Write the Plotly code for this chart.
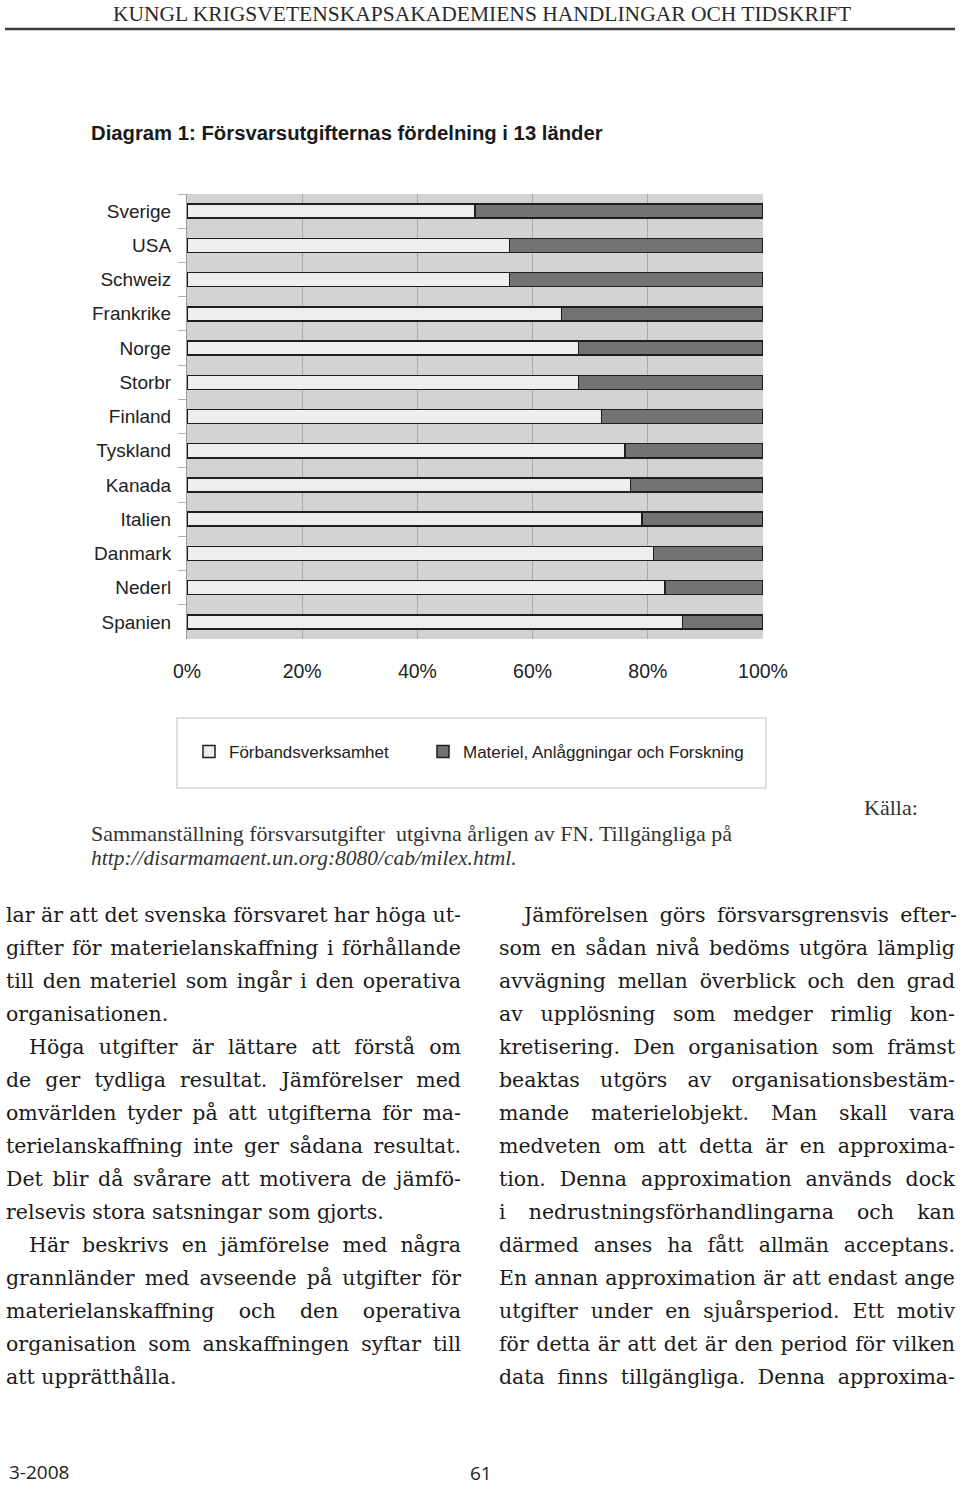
import json
import plotly.graph_objects as go

# ---------------- data ----------------
countries = ["Sverige", "USA", "Schweiz", "Frankrike", "Norge", "Storbr", "Finland",
             "Tyskland", "Kanada", "Italien", "Danmark", "Nederl", "Spanien"]
forband = [50, 56, 56, 65, 68, 68, 72, 76, 77, 79, 81, 83, 86]
materiel = [50, 44, 44, 35, 32, 32, 28, 24, 23, 21, 19, 17, 14]
x_tick_vals = [0, 20, 40, 60, 80, 100]
x_tick_text = ["0%", "20%", "40%", "60%", "80%", "100%"]
series_names = ["Förbandsverksamhet", "Materiel, Anlåggningar och Forskning"]

header_text = "KUNGL KRIGSVETENSKAPSAKADEMIENS HANDLINGAR OCH TIDSKRIFT"
title_text = "Diagram 1: Försvarsutgifternas fördelning i 13 länder"
source_label = "Källa:"
source_line1 = "Sammanställning försvarsutgifter  utgivna årligen av FN. Tillgängliga på"
source_line2 = "http://disarmamaent.un.org:8080/cab/milex.html."

# (text, indented, justified)
left_col = [
    ("lar är att det svenska försvaret har höga ut-", False, True),
    ("gifter för materielanskaffning i förhållande", False, True),
    ("till den materiel som ingår i den operativa", False, True),
    ("organisationen.", False, False),
    ("Höga utgifter är lättare att förstå om", True, True),
    ("de ger tydliga resultat. Jämförelser med", False, True),
    ("omvärlden tyder på att utgifterna för ma-", False, True),
    ("terielanskaffning inte ger sådana resultat.", False, True),
    ("Det blir då svårare att motivera de jämfö-", False, True),
    ("relsevis stora satsningar som gjorts.", False, False),
    ("Här beskrivs en jämförelse med några", True, True),
    ("grannländer med avseende på utgifter för", False, True),
    ("materielanskaffning och den operativa", False, True),
    ("organisation som anskaffningen syftar till", False, True),
    ("att upprätthålla.", False, False),
]
right_col = [
    ("Jämförelsen görs försvarsgrensvis efter-", True, True),
    ("som en sådan nivå bedöms utgöra lämplig", False, True),
    ("avvägning mellan överblick och den grad", False, True),
    ("av upplösning som medger rimlig kon-", False, True),
    ("kretisering. Den organisation som främst", False, True),
    ("beaktas utgörs av organisationsbestäm-", False, True),
    ("mande materielobjekt. Man skall vara", False, True),
    ("medveten om att detta är en approxima-", False, True),
    ("tion. Denna approximation används dock", False, True),
    ("i nedrustningsförhandlingarna och kan", False, True),
    ("därmed anses ha fått allmän acceptans.", False, True),
    ("En annan approximation är att endast ange", False, True),
    ("utgifter under en sjuårsperiod. Ett motiv", False, True),
    ("för detta är att det är den period för vilken", False, True),
    ("data finns tillgängliga. Denna approxima-", False, True),
]
footer_left = "3-2008"
footer_page = "61"

# ---------------- geometry ----------------
W, H = 960, 1486
PL, PR, PT, PB = 187, 763, 194, 639  # plot area in pixels


def px(x):
    return (x - PL) / (PR - PL)


def py(y):
    return (PB - y) / (PB - PT)


SANS = "Liberation Sans, Arial, sans-serif"
SERIF = "Liberation Serif, Times New Roman, serif"
BODY = "DejaVu Serif, serif"

fig = go.Figure()
fig.add_trace(go.Bar(
    y=countries, x=forband, orientation="h", name=series_names[0], legend="legend",
    marker=dict(color="#eeeeee", line=dict(color="#1e1e1e", width=1.5)),
))
fig.add_trace(go.Bar(
    y=countries, x=materiel, orientation="h", name=series_names[1], legend="legend2",
    marker=dict(color="#737373", line=dict(color="#1e1e1e", width=1.5)),
))

annotations = []
justify = []  # target width in px per annotation index (0 = none)


def ann(text, x, y, size, family, color="#222222", xanchor="left", yanchor="middle", jw=0):
    annotations.append(dict(
        text=text, x=px(x), y=py(y), xref="paper", yref="paper",
        showarrow=False, xanchor=xanchor, yanchor=yanchor, align="left",
        font=dict(size=size, family=family, color=color),
    ))
    justify.append(jw)


ann(header_text, 482, 14, 21.5, SERIF, color="#2a2a2a", xanchor="center")
ann("<b>" + title_text + "</b>", 89, 133, 20.3, SANS, color="#1a1a1a")
ann(source_label, 862, 807, 22, SERIF, color="#333333")
ann(source_line1, 89, 833, 22, SERIF, color="#333333")
ann("<i>" + source_line2 + "</i>", 89, 858, 21.5, SERIF, color="#333333")

LINE_H = 33
for col, (x_left, x_right) in ((left_col, (7, 462)), (right_col, (500, 956))):
    for i, (line, indent, just) in enumerate(col):
        x0 = x_left + (23 if indent else 0)
        ann(line, x0 - 3, 915 + i * LINE_H, 20.5, BODY, color="#1a1a1a",
            jw=(x_right - x0) if just else 0)

ann(footer_left, 7, 1472, 19, "Open Sans, sans-serif", color="#222222")
ann(footer_page, 481, 1473, 19, "Open Sans, sans-serif", color="#222222", xanchor="center")

shapes = [
    dict(type="line", xref="paper", yref="paper", x0=px(5), x1=px(955), y0=py(29), y1=py(29),
         line=dict(color="#3a3a3a", width=2.5)),
    dict(type="rect", xref="paper", yref="paper", x0=px(177), x1=px(766), y0=py(718), y1=py(788),
         line=dict(color="#d6d6d6", width=1.5), fillcolor="rgba(0,0,0,0)"),
]

legend_common = dict(orientation="h", yanchor="middle", xanchor="left",
                     font=dict(size=17, family=SANS, color="#222222"),
                     bgcolor="rgba(0,0,0,0)", borderwidth=0)

fig.update_layout(
    width=W, height=H, autosize=False,
    margin=dict(l=PL, r=W - PR, t=PT, b=H - PB, pad=0),
    paper_bgcolor="white", plot_bgcolor="#d3d3d3",
    barmode="stack", bargap=0.59,
    showlegend=True,
    legend=dict(x=px(189), y=py(752), **legend_common),
    legend2=dict(x=px(423), y=py(752), **legend_common),
    annotations=annotations, shapes=shapes,
    xaxis=dict(range=[0, 100], tickvals=x_tick_vals, ticktext=x_tick_text,
               showgrid=True, gridcolor="#a8a8a8", gridwidth=1, zeroline=False,
               showline=False, ticks="", ticklabelstandoff=18,
               tickfont=dict(size=19.5, family=SANS, color="#222222")),
    yaxis=dict(categoryorder="array", categoryarray=countries, autorange="reversed",
               showline=True, linecolor="#9a9a9a", linewidth=1,
               ticks="outside", tickson="boundaries", ticklen=8, tickcolor="#b0b0b0",
               ticklabelstandoff=11, showgrid=False,
               tickfont=dict(size=19, family=SANS, color="#222222")),
)

post = """
document.body.style.margin = '0';
var JW = %s;
document.querySelectorAll('g.annotation').forEach(function (g) {
  var i = +g.getAttribute('data-index');
  var w = JW[i];
  if (!w) return;
  var t = g.querySelector('text.annotation-text');
  if (!t) return;
  var n = (t.textContent.match(/ /g) || []).length;
  if (!n) return;
  var L = t.getComputedTextLength();
  t.style.wordSpacing = ((w - L) / n) + 'px';
});
""" % json.dumps(justify)

fig.write_html("out.html", post_script=post, config={"displayModeBar": False})
